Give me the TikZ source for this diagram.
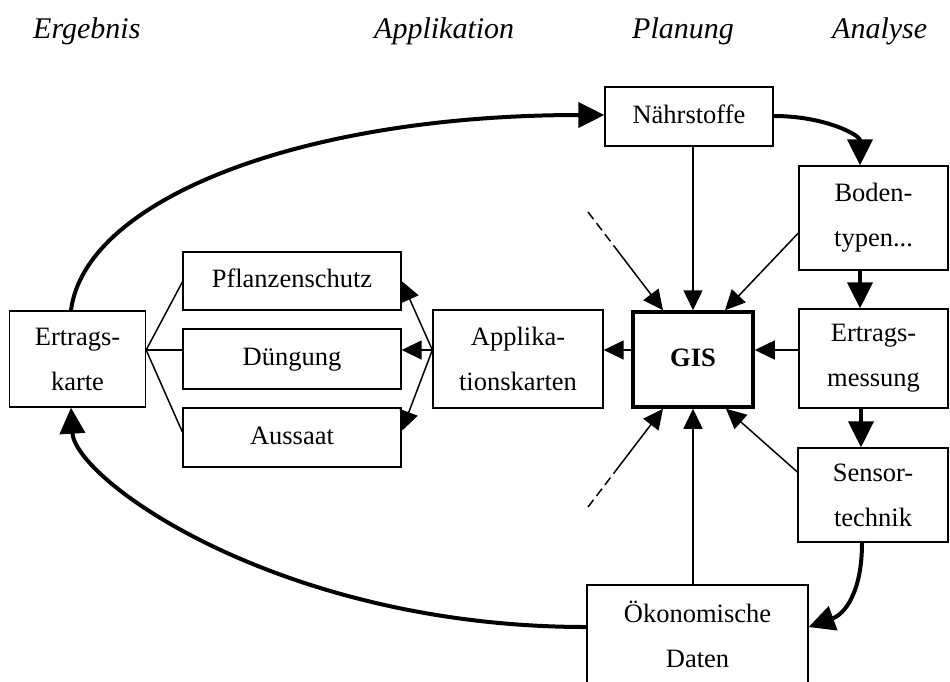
\documentclass[tikz,border=0pt]{standalone}
\usepackage{fontspec}
\setmainfont{Liberation Serif}
\usetikzlibrary{arrows.meta,calc}
\begin{document}
\begin{tikzpicture}[x=1pt,y=-1pt,
  box/.style={draw, line width=1.3pt, inner sep=0pt, align=center,
    font=\fontsize{26.5}{45}\selectfont},
  onebox/.style={box, text height=19pt, text depth=6pt},
  plain/.style={inner sep=0pt, align=center, font=\fontsize{26.5}{45}\selectfont},
  thinline/.style={line width=1.5pt},
  thinarrow/.style={thinline, -{Triangle[length=20pt,width=19pt]}},
  bigarrow/.style={line width=4pt, -{Triangle[length=26pt,width=25pt]}},
  heading/.style={anchor=base west, inner sep=0pt,
    font=\fontsize{30}{36}\selectfont\itshape},
]
\useasboundingbox (0,0) rectangle (950,681);
\clip (0,0) rectangle (950,681);

% column headings
\node[heading] (hErg)  at (33,38)  {Ergebnis};
\node[heading] (hApp)  at (374,38) {Applikation};
\node[heading] (hPlan) at (632,38) {Planung};
\node[heading] (hAna)  at (832,38) {Analyse};

% boxes
\node[onebox, minimum width=168, minimum height=59] (naehr) at (689,116.5) {Nährstoffe};
\node[box, minimum width=149, minimum height=104] (boden) at (873.5,218) {Boden-\\typen...};
\node[box, minimum width=149, minimum height=99] (ertm) at (873.5,358.5) {Ertrags-\\messung};
\node[box, minimum width=150, minimum height=94] (sensor) at (873,495) {Sensor-\\technik};
\node[draw, line width=1.3pt, inner sep=0pt, minimum width=221, minimum height=130] (oek) at (697.5,650) {};
\node[plain] (oektext) at (697.5,634) {Ökonomische\\Daten};
\node[onebox, line width=3.5pt, minimum width=120, minimum height=95, font=\fontsize{26.5}{45}\selectfont\bfseries] (gis) at (693,359.5) {GIS};
\node[box, minimum width=170, minimum height=98] (appl) at (518,359) {Applika-\\tionskarten};
\node[onebox, minimum width=218, minimum height=58] (pfl) at (292,281) {Pflanzenschutz};
\node[onebox, minimum width=218, minimum height=60] (dung) at (292,359) {Düngung};
\node[onebox, minimum width=218, minimum height=59] (auss) at (292,437.5) {Aussaat};
\node[box, minimum width=136, minimum height=96] (ertk) at (77.5,359) {Ertrags-\\karte};

% open ends of the dashed feeds
\coordinate (dashA) at (588,212);
\coordinate (dashB) at (588,507);
\coordinate (gisNW) at (gis.north -| 663,0);
\coordinate (gisSW) at (gis.south -| 663,0);

% the cycle
\draw[bigarrow] (ertk.north -| 71,0) .. controls (85,200) and (300,115) .. (naehr.west |- 0,115);
\draw[bigarrow] (naehr.east |- 0,116) .. controls (825,116) and (860,135) .. (boden.north -| 860,0);
\draw[bigarrow] (boden.south -| 860,0) -- (ertm.north -| 860,0);
\draw[bigarrow] (ertm.south -| 861,0) -- (sensor.north -| 861,0);
\draw[bigarrow] (sensor.south -| 862,0) .. controls (862,592) and (845,614) .. (oek.east |- 0,627);
\draw[bigarrow] (oek.west |- 0,627) .. controls (280,627) and (75,480) .. (ertk.south -| 71,0);

% inputs to GIS
\draw[thinarrow] (naehr.south -| 693,0) -- (gis.north -| 693,0);
\draw[thinarrow] (boden.west |- 0,233) -- (gis.north -| 725,0);
\draw[thinline, dash pattern=on 9pt off 5pt] (dashA) -- ($(dashA)!0.36!(gisNW)$);
\draw[thinarrow] ($(dashA)!0.36!(gisNW)$) -- (gisNW);
\draw[thinarrow] (ertm.west |- 0,350) -- (gis.east |- 0,350);
\draw[thinarrow] (sensor.west |- 0,472) -- (gis.south -| 726,0);
\draw[thinarrow] (oek.north -| 693,0) -- (gis.south -| 693,0);
\draw[thinline, dash pattern=on 9pt off 5pt] (dashB) -- ($(dashB)!0.36!(gisSW)$);
\draw[thinarrow] ($(dashB)!0.36!(gisSW)$) -- (gisSW);

% outputs
\draw[thinarrow] (gis.west |- 0,350) -- (appl.east |- 0,350);
\draw[thinarrow] (appl.west |- 0,350) -- (pfl.east |- 0,281);
\draw[thinarrow] (appl.west |- 0,350) -- (dung.east |- 0,350);
\draw[thinarrow] (appl.west |- 0,350) -- (auss.east |- 0,431);

% yield map links
\draw[thinline] (ertk.east |- 0,350) -- (pfl.west |- 0,282);
\draw[thinline] (ertk.east |- 0,350) -- (dung.west |- 0,350);
\draw[thinline] (ertk.east |- 0,350) -- (auss.west |- 0,432);
\end{tikzpicture}
\end{document}
